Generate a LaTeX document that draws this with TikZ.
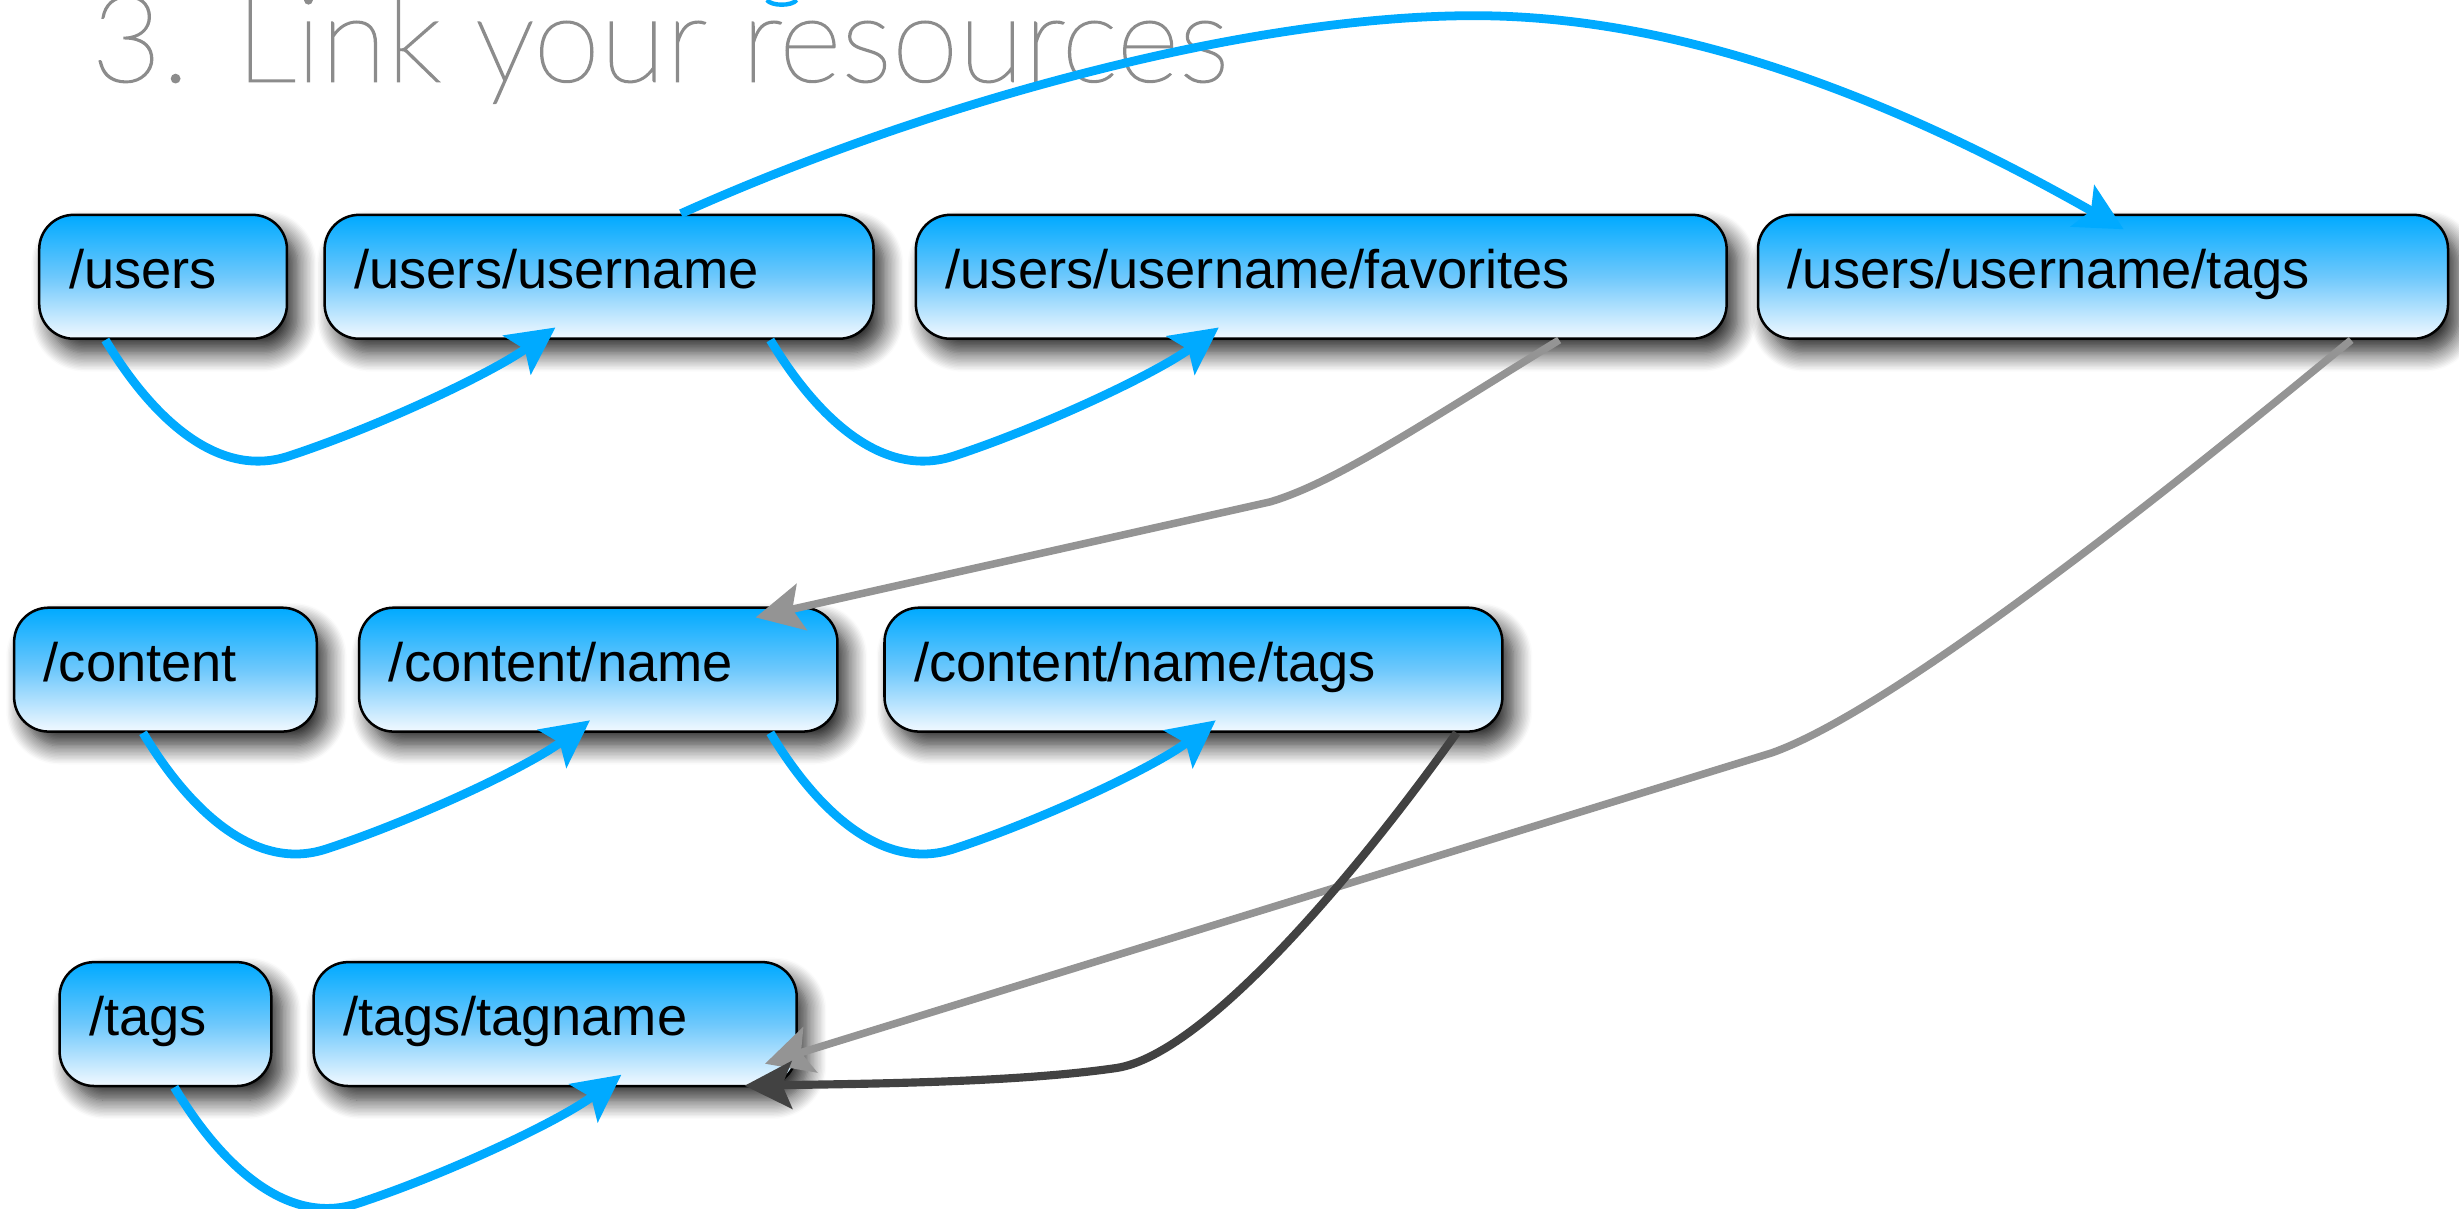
\documentclass[tikz,border=0pt]{standalone}
\usepackage{fontspec}
\setmainfont{Liberation Sans}
\IfFontExistsTF{Lato Hairline}{\newfontfamily\titlefont[FakeBold=1.5]{Lato Hairline}}{%
 \IfFontExistsTF{Lato Thin}{\newfontfamily\titlefont{Lato Thin}}{%
  \IfFontExistsTF{Lato Light}{\newfontfamily\titlefont{Lato Light}}{%
    \newfontfamily\titlefont{Liberation Sans}}}}
\usetikzlibrary{arrows.meta,shadows.blur,calc}
\definecolor{linkblue}{RGB}{0,170,255}
\definecolor{linkgray}{RGB}{148,148,148}
\definecolor{linkdark}{RGB}{66,66,66}
\definecolor{titlegray}{RGB}{140,140,140}
\definecolor{boxtop}{RGB}{0,170,255}
\definecolor{boxmid}{RGB}{110,200,252}
\definecolor{boxbot}{RGB}{242,249,255}
\newcommand{\nodefont}{\fontsize{17.3pt}{20pt}\selectfont}
\begin{document}
\begin{tikzpicture}[x=0.5pt,y=-0.5pt,
  rbox/.style={draw=black, line width=0.8pt, rounded corners=11pt,
    top color=boxtop, bottom color=boxbot, middle color=boxmid,
    minimum height=39.5pt, inner xsep=9.5pt, inner ysep=0pt,
    align=left, text height=9pt, text depth=1.5pt, font=\nodefont,
    blur shadow={shadow xshift=3.5pt, shadow yshift=-4.5pt, shadow blur radius=6pt,
      shadow blur steps=14, shadow opacity=85}},
  blueline/.style={draw=linkblue, line width=2.8pt, line join=round,
    -{Stealth[length=15pt,width=15pt,inset=3pt]}},
  grayline/.style={draw=linkgray, line width=2.4pt, line join=round,
    -{Stealth[length=15pt,width=15pt,inset=3pt]}},
  darkline/.style={draw=linkdark, line width=2.6pt, line join=round,
    -{Stealth[length=15pt,width=15pt,inset=3pt]}}]
\useasboundingbox (0,0) rectangle (1568,770.3);

% title
\node[anchor=base west, inner sep=0pt, text=titlegray,
  font=\titlefont\fontsize{38.5pt}{40pt}\selectfont] (title) at (58,52) {3. Link your resources};
\draw[linkblue, line width=1.4pt] (489,0) .. controls (492,4) and (505,4) .. (508,0);

% row 1
\node[rbox, text width=60pt]    (users)   at (104,176.5)   {/users};
\node[rbox, text width=156pt]   (uname)   at (382,176.5)   {/users/username};
\node[rbox, text width=239.5pt] (fav)     at (842.5,176.5) {/users/username/favorites};
\node[rbox, text width=201pt]   (utags)   at (1341,176.5)  {/users/username/tags};
% row 2
\node[rbox, text width=77.5pt]  (content) at (105.5,427)   {/content};
\node[rbox, text width=133.5pt] (cname)   at (381.5,427)   {/content/name};
\node[rbox, text width=178pt]   (ctags)   at (761,427)     {/content/name/tags};
% row 3
\node[rbox, text width=48.5pt]  (tags)    at (105.5,653)   {/tags};
\node[rbox, text width=135pt]   (tagname) at (354,653)     {/tags/tagname};

% small blue hooks
\draw[blueline] ($(users.south west)+(43,0)$) coordinate (s1)
  .. controls ($(s1)+(30,50)$) and ($(s1)+(72,89)$) .. ($(s1)+(117,74)$)
  .. controls ($(s1)+(172,56)$) and ($(s1)+(245,22)$) .. ($(uname.south west)+(148,-8)$);
\draw[blueline] ($(uname.south west)+(285,0)$) coordinate (s2)
  .. controls ($(s2)+(30,50)$) and ($(s2)+(72,89)$) .. ($(s2)+(117,74)$)
  .. controls ($(s2)+(172,56)$) and ($(s2)+(245,22)$) .. ($(fav.south west)+(194,-8)$);
\draw[blueline] ($(content.south west)+(83,0)$) coordinate (s3)
  .. controls ($(s3)+(30,50)$) and ($(s3)+(72,89)$) .. ($(s3)+(117,74)$)
  .. controls ($(s3)+(172,56)$) and ($(s3)+(245,22)$) .. ($(cname.south west)+(148,-8)$);
\draw[blueline] ($(cname.south west)+(263,0)$) coordinate (s4)
  .. controls ($(s4)+(30,50)$) and ($(s4)+(72,89)$) .. ($(s4)+(117,74)$)
  .. controls ($(s4)+(172,56)$) and ($(s4)+(245,22)$) .. ($(ctags.south west)+(212,-8)$);
\draw[blueline] ($(tags.south west)+(74,0)$) coordinate (s5)
  .. controls ($(s5)+(30,50)$) and ($(s5)+(72,89)$) .. ($(s5)+(117,74)$)
  .. controls ($(s5)+(172,56)$) and ($(s5)+(245,22)$) .. ($(tagname.south west)+(197,-8)$);

% big blue arc
\draw[blueline] ($(uname.north west)+(228,0)$)
  .. controls (600,62) and (800,10) .. (940,10)
  .. controls (1080,10) and (1220,70) .. ($(utags.north west)+(234,10)$);

% gray connectors
\draw[grayline] ($(fav.south west)+(411,0)$)
  .. controls (900,275) and (850,308) .. (810,320)
  -- ($(cname.north east)+(-53,7)$);
\draw[grayline] ($(utags.south west)+(379,0)$)
  .. controls (1350,340) and (1200,455) .. (1130,480)
  -- ($(tagname.south east)+(-21,-15)$);

% dark connector
\draw[darkline] ($(ctags.south east)+(-30,0)$)
  .. controls (870,550) and (770,672) .. (712,681)
  .. controls (650,690) and (560,691) .. ($(tagname.south east)+(-34,-1)$);
\end{tikzpicture}
\end{document}
